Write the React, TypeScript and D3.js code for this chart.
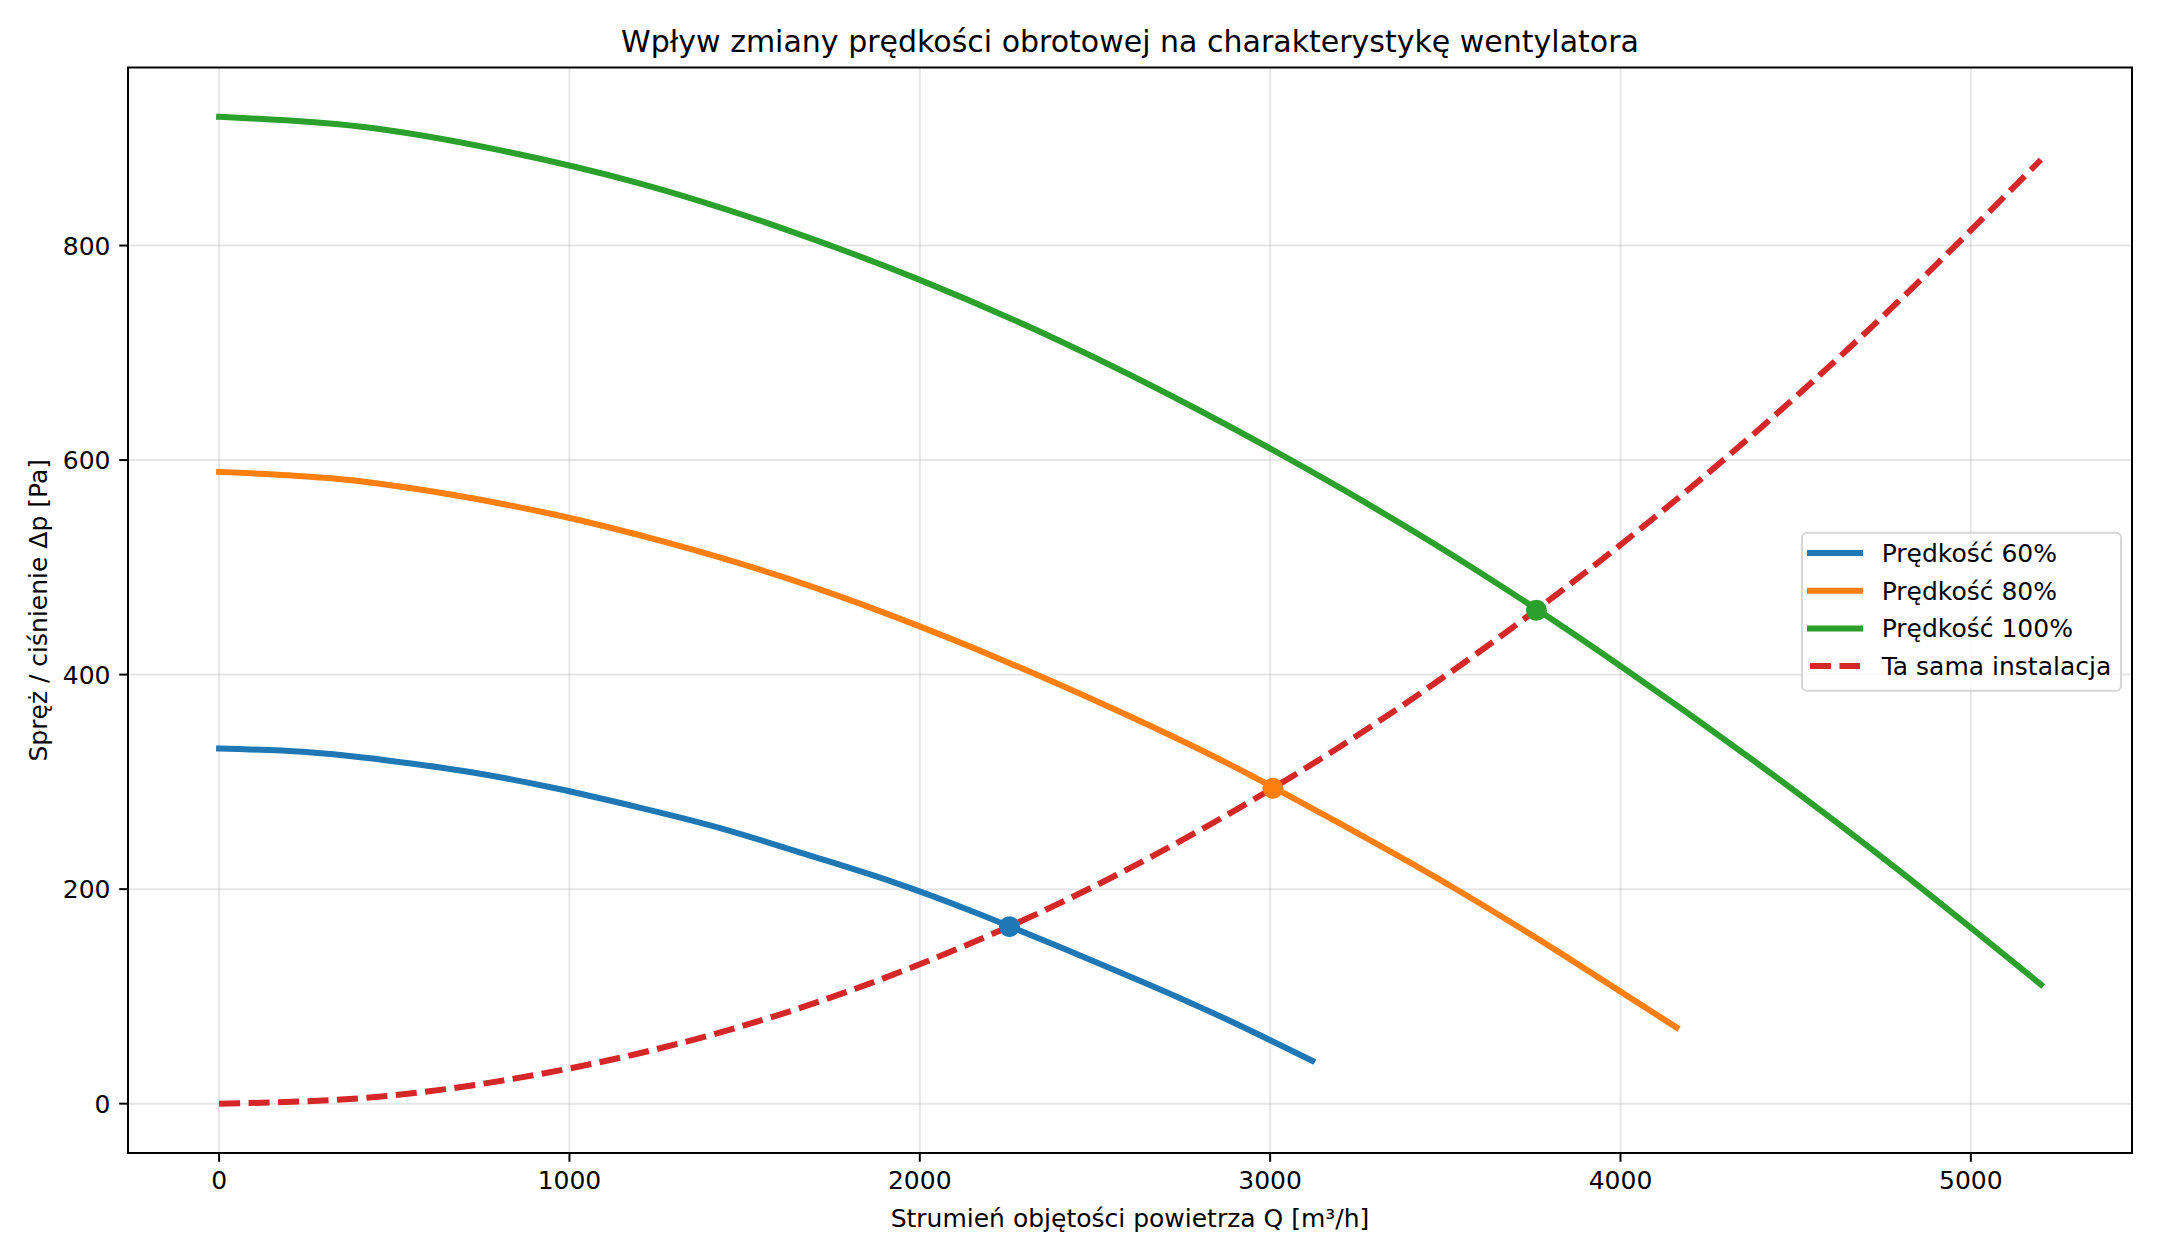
import { useEffect, useRef } from "react";

import * as d3 from "d3";

// fan curve at 60% speed
const flow60 = [0, 240, 480, 720, 960, 1200, 1440, 1680, 1920, 2160, 2400, 2640, 2880, 3120];
const pressure60 = [331, 328, 320, 309, 294, 276, 256, 232, 207, 178, 146, 113, 78, 40];

// fan curve at 80% speed
const flow80 = [0, 320, 640, 960, 1280, 1600, 1920, 2240, 2560, 2880, 3200, 3520, 3840, 4160];
const pressure80 = [589, 583, 569, 549, 523, 492, 455, 413, 367, 317, 261, 202, 138, 71];

// fan curve at 100% speed
const flow100 = [0, 400, 800, 1200, 1600, 2000, 2400, 2800, 3200, 3600, 4000, 4400, 4800, 5200];
const pressure100 = [920, 911, 889, 858, 817, 768, 711, 646, 574, 495, 408, 315, 216, 111];

// installation curve
const systemFlow = [0, 400, 800, 1200, 1600, 2000, 2400, 2800, 3200, 3600, 4000, 4400, 4800, 5200];
const systemPressure = [0, 5, 21, 47, 83, 130, 187, 255, 333, 422, 521, 630, 750, 880];

// operating points
const pointFlow = [2256, 3008, 3760];
const pointPressure = [165, 294, 460];

const xTicks = [0, 1000, 2000, 3000, 4000, 5000];
const yTicks = [0, 200, 400, 600, 800];

const seriesLabels = ["Prędkość 60%", "Prędkość 80%", "Prędkość 100%", "Ta sama instalacja"];
const seriesColors = ["#1f77b4", "#ff7f0e", "#2ca02c", "#d62728"];

const title = "Wpływ zmiany prędkości obrotowej na charakterystykę wentylatora";
const xLabel = "Strumień objętości powietrza Q [m³/h]";
const yLabel = "Spręż / ciśnienie Δp [Pa]";

export default function App() {
    const ref = useRef<HTMLDivElement>(null);

    useEffect(() => {
        const svg_width = 2160;
        const svg_height = 1260;
        const left = 128, right = 2132, top = 67.5, bottom = 1153;
        const font = "DejaVu Sans";
        const lw = 6;
        const dash = "21,8.5";

        const svg = d3.select(ref.current)
            .append("svg")
                .attr("width", svg_width)
                .attr("height", svg_height)
                .style("position", "absolute")
                .style("left", "0px")
                .style("top", "0px")
                .style("background-color", "white")
                .style("font-family", font);

        const x = d3.scaleLinear().domain([-260, 5460]).range([left, right]);
        const y = d3.scaleLinear().domain([-46, 966]).range([bottom, top]);

        // grid
        const grid = svg.append("g");
        grid.selectAll("line.gx").data(xTicks).enter().append("line")
            .attr("x1", d => x(d)).attr("x2", d => x(d))
            .attr("y1", top).attr("y2", bottom)
            .attr("stroke", "#b0b0b0").attr("stroke-opacity", 0.3).attr("stroke-width", 2);
        grid.selectAll("line.gy").data(yTicks).enter().append("line")
            .attr("x1", left).attr("x2", right)
            .attr("y1", d => y(d)).attr("y2", d => y(d))
            .attr("stroke", "#b0b0b0").attr("stroke-opacity", 0.3).attr("stroke-width", 2);

        svg.append("clipPath").attr("id", "plot-clip")
            .append("rect").attr("x", left).attr("y", top)
            .attr("width", right - left).attr("height", bottom - top);

        const line = d3.line<[number, number]>()
            .x(d => x(d[0]))
            .y(d => y(d[1]))
            .curve(d3.curveNatural);

        const series: [number, number][][] = [
            flow60.map((q, i) => [q, pressure60[i]]),
            flow80.map((q, i) => [q, pressure80[i]]),
            flow100.map((q, i) => [q, pressure100[i]]),
            systemFlow.map((q, i) => [q, systemPressure[i]]),
        ];

        const plot = svg.append("g").attr("clip-path", "url(#plot-clip)");
        series.forEach((s, i) => {
            plot.append("path")
                .attr("d", line(s))
                .attr("fill", "none")
                .attr("stroke", seriesColors[i])
                .attr("stroke-width", lw)
                .attr("stroke-linecap", i === 3 ? "butt" : "square")
                .attr("stroke-dasharray", i === 3 ? dash : null);
        });

        plot.selectAll("circle").data(pointFlow).enter().append("circle")
            .attr("cx", d => x(d))
            .attr("cy", (d, i) => y(pointPressure[i]))
            .attr("r", 10.5)
            .attr("fill", (d, i) => seriesColors[i]);

        // spines
        svg.append("rect")
            .attr("x", left).attr("y", top)
            .attr("width", right - left).attr("height", bottom - top)
            .attr("fill", "none").attr("stroke", "black").attr("stroke-width", 2);

        // x axis
        const xAxis = svg.append("g");
        xAxis.selectAll("line").data(xTicks).enter().append("line")
            .attr("x1", d => x(d)).attr("x2", d => x(d))
            .attr("y1", bottom).attr("y2", bottom + 8.75)
            .attr("stroke", "black").attr("stroke-width", 2);
        xAxis.selectAll("text").data(xTicks).enter().append("text")
            .attr("x", d => x(d)).attr("y", bottom + 36)
            .attr("text-anchor", "middle")
            .style("font-size", "25px")
            .text(d => String(d));

        // y axis
        const yAxis = svg.append("g");
        yAxis.selectAll("line").data(yTicks).enter().append("line")
            .attr("x1", left - 8.75).attr("x2", left)
            .attr("y1", d => y(d)).attr("y2", d => y(d))
            .attr("stroke", "black").attr("stroke-width", 2);
        yAxis.selectAll("text").data(yTicks).enter().append("text")
            .attr("x", left - 17.5).attr("y", d => y(d) + 9)
            .attr("text-anchor", "end")
            .style("font-size", "25px")
            .text(d => String(d));

        svg.append("text")
            .attr("x", (left + right) / 2).attr("y", 1226.5)
            .attr("text-anchor", "middle")
            .style("font-size", "25px")
            .text(xLabel);

        svg.append("text")
            .attr("transform", `translate(47,${(top + bottom) / 2}) rotate(-90)`)
            .attr("text-anchor", "middle")
            .style("font-size", "25px")
            .text(yLabel);

        svg.append("text")
            .attr("x", (left + right) / 2).attr("y", 51.5)
            .attr("text-anchor", "middle")
            .style("font-size", "30px")
            .text(title);

        // legend
        const legend = svg.append("g");
        legend.append("rect")
            .attr("x", 1802).attr("y", 532.7)
            .attr("width", 319).attr("height", 158)
            .attr("rx", 5)
            .attr("fill", "white").attr("fill-opacity", 0.8)
            .attr("stroke", "#cccccc").attr("stroke-opacity", 0.8).attr("stroke-width", 2);
        const rows = legend.selectAll("g").data(seriesLabels).enter().append("g")
            .attr("transform", (d, i) => `translate(0,${553 + i * 37.7})`);
        rows.append("line")
            .attr("x1", 1810).attr("x2", 1860)
            .attr("y1", 0).attr("y2", 0)
            .attr("stroke", (d, i) => seriesColors[i])
            .attr("stroke-width", lw)
            .attr("stroke-linecap", (d, i) => i === 3 ? "butt" : "square")
            .attr("stroke-dasharray", (d, i) => i === 3 ? dash : null);
        rows.append("text")
            .attr("x", 1881.7).attr("y", 9)
            .style("font-size", "25px")
            .text(d => d);

        return () => {
            d3.select(ref.current).selectAll("*").remove();
        };
    }, [ref]);

    return (
        <div ref={ref}></div>
    );
}
